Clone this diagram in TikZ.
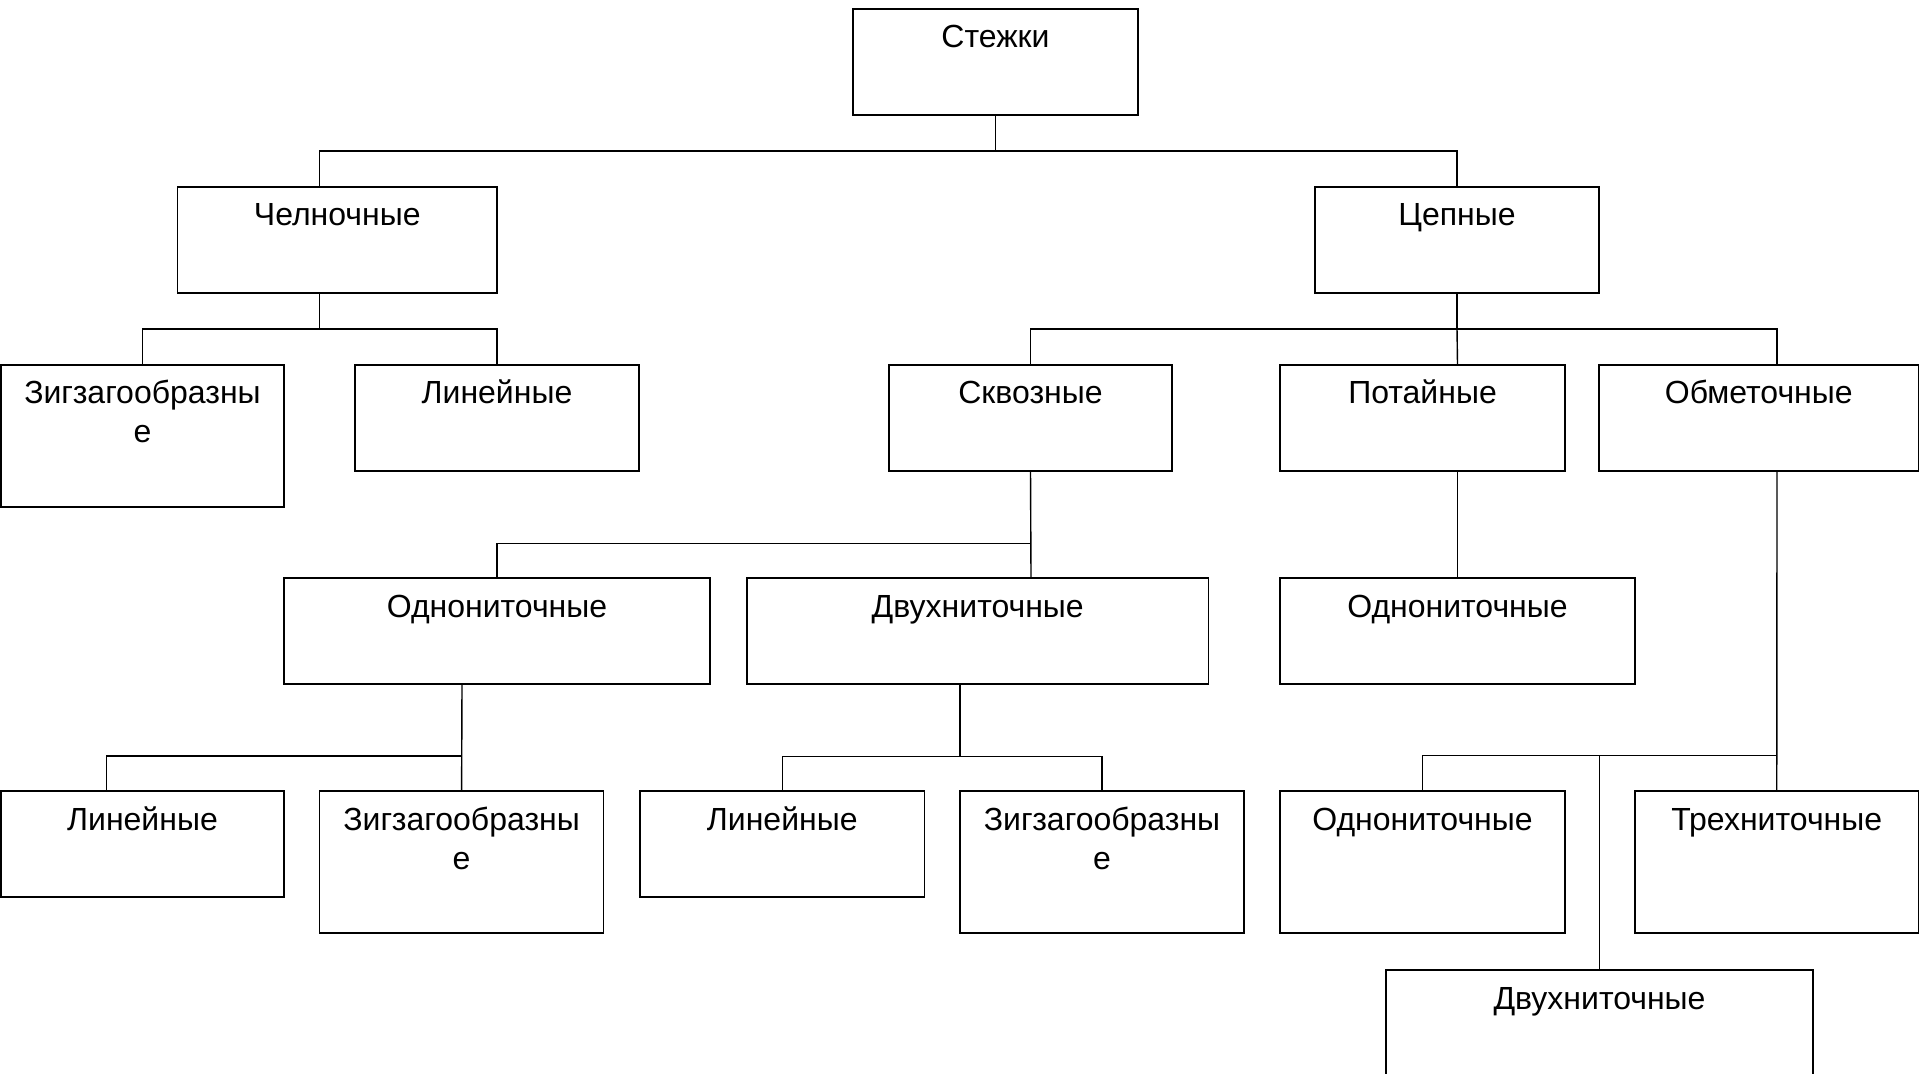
\documentclass[tikz,border=0pt]{standalone}
\usepackage{fontspec}
\setmainfont{Liberation Sans}
\usetikzlibrary{calc}
\tikzset{%
	box/.style={draw,line width=0.75pt,anchor=north west,inner sep=0pt,outer sep=0pt,align=center,font=\fontsize{16}{19.5}\selectfont,text height=19.5pt,text depth=33.5pt},
	tall/.style={text depth=51.5pt},
	twoline/.style={text height=39pt,text depth=32pt},
	link/.style={line width=0.7pt},
}
\begin{document}
\begin{tikzpicture}[x=0.5pt,y=-0.5pt]
	\clip (0,0) rectangle (1920,1074);
	
	%уровень 1
	\node[box,minimum width=142.5pt] (stezhki) at (853,9) {Стежки};
	\node[box,minimum width=159.75pt] (chelnoch) at (177.5,187) {Челночные};
	\node[box,minimum width=142pt] (tsepn) at (1315,187) {Цепные};
	
	%уровень 2
	\node[box,twoline,minimum width=141.5pt] (zigzag1) at (1,365) {Зигзагообразны\\е};
	\node[box,minimum width=142pt] (lin1) at (355,365) {Линейные};
	\node[box,minimum width=141.5pt] (skvoz) at (889,365) {Сквозные};
	\node[box,minimum width=142.5pt] (potain) at (1280,365) {Потайные};
	\node[box,minimum width=159.75pt] (obmet) at (1599,365) {Обметочные};
	
	%уровень 3
	\node[box,minimum width=213pt] (odnonit1) at (284,578) {Однониточные};
	\node[box,minimum width=230.75pt] (dvuhnit1) at (747,578) {Двухниточные};
	\node[box,minimum width=177.5pt] (odnonit2) at (1280,578) {Однониточные};
	
	%уровень 4
	\node[box,minimum width=141.5pt] (lin2) at (1,791) {Линейные};
	\node[box,twoline,minimum width=142pt] (zigzag2) at (319.6,791) {Зигзагообразны\\е};
	\node[box,minimum width=142.25pt] (lin3) at (640,791) {Линейные};
	\node[box,twoline,minimum width=142pt] (zigzag3) at (960,791) {Зигзагообразны\\е};
	\node[box,tall,minimum width=142.5pt] (odnonit3) at (1280,791) {Однониточные};
	\node[box,tall,minimum width=141.75pt] (trehnit) at (1635,791) {Трехниточные};
	\node[box,tall,minimum width=213.5pt] (dvuhnit2) at (1386,970) {Двухниточные};
	
	%связи
	\draw[link] (stezhki.south) -- ++(0,36) coordinate (bA);
	\draw[link] ($(chelnoch.north west)+(142,0)$) |- (bA) -| (tsepn.north);
	
	\draw[link] ($(chelnoch.south west)+(142,0)$) -- ++(0,36) coordinate (bB);
	\draw[link] (zigzag1.north) |- (bB) -| (lin1.north);
	
	\draw[link] (tsepn.south) -- ++(0,36) coordinate (bC);
	\draw[link] (skvoz.north) |- (bC) -| ($(obmet.north west)+(178,0)$);
	\draw[link] (bC) -- ($(potain.north west)+(177.5,0)$);
	
	\draw[link] (skvoz.south) -- ($(dvuhnit1.north west)+(284,0)$);
	\coordinate (bD) at ($(skvoz.south)+(0,72.5)$);
	\draw[link] (odnonit1.north) |- (bD);
	
	\draw[link] ($(potain.south west)+(177.5,0)$) -- (odnonit2.north);
	
	\draw[link] ($(obmet.south west)+(178,0)$) -- (trehnit.north);
	\coordinate (bF) at ($(trehnit.north)+(0,-35.5)$);
	\draw[link] (odnonit3.north) |- (bF);
	\draw[link] (dvuhnit2.north) -- (dvuhnit2.north |- bF);
	
	\draw[link] ($(odnonit1.south west)+(178,0)$) -- (zigzag2.north);
	\coordinate (bG) at ($(zigzag2.north)+(0,-35)$);
	\draw[link] ($(lin2.north west)+(105.5,0)$) |- (bG);
	
	\draw[link] ($(dvuhnit1.south west)+(213,0)$) -- ++(0,72.5) coordinate (bH);
	\draw[link] (lin3.north) |- (bH) -| (zigzag3.north);
\end{tikzpicture}
\end{document}
